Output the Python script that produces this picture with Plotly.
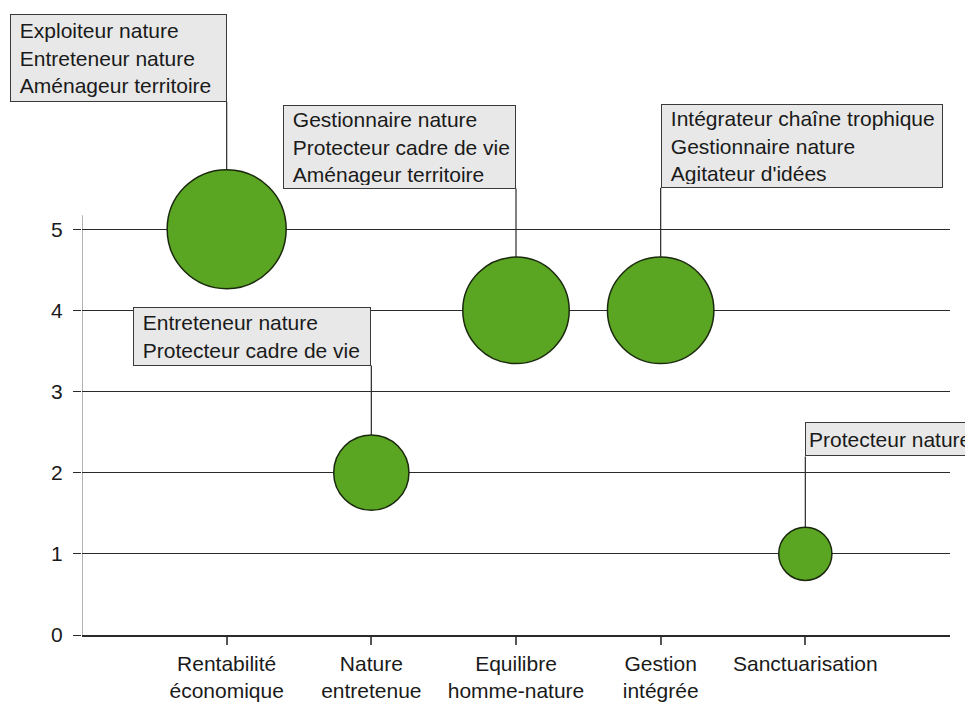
import plotly.graph_objects as go

# categories and values
categories = ["Rentabilité<br>économique", "Nature<br>entretenue", "Equilibre<br>homme-nature",
              "Gestion<br>intégrée", "Sanctuarisation"]
cat_pos = [1, 2, 3, 4, 5]
scores = [5, 4, 4, 2, 1]
score_pos = [1, 3, 4, 2, 5]

# role labels for each bubble
roles = [
    ["Exploiteur nature", "Entreteneur nature", "Aménageur territoire"],
    ["Gestionnaire nature", "Protecteur cadre de vie", "Aménageur territoire"],
    ["Intégrateur chaîne trophique", "Gestionnaire nature", "Agitateur d'idées"],
    ["Entreteneur nature", "Protecteur cadre de vie"],
    ["Protecteur nature"],
]
# where the label box sits (bottom edge, in y units) and which side of the stem
box_bottom = [6.57, 5.50, 5.51, 3.32, 2.20]
box_side = ["right", "right", "left", "right", "left"]
box_w = [217, 233, 282, 238, 170]
box_h = [88, 84, 84, 59, 34]
box_indent = ["&nbsp;", "&nbsp;", "&nbsp;", "&nbsp;", ""]

fig = go.Figure()

# stems from bubble to box
for x, y, yb in zip(score_pos, scores, box_bottom):
    fig.add_shape(type="line", x0=x, x1=x, y0=y, y1=yb, xref="x", yref="y",
                  line=dict(color="#2a2a2a", width=1.2), layer="below")

# y axis line (only up to a bit above 5)
fig.add_shape(type="line", x0=0, x1=0, y0=0, y1=5.17, xref="x", yref="y",
              line=dict(color="#9a9a9a", width=1.5), layer="below")

fig.add_trace(go.Scatter(
    x=score_pos, y=scores, mode="markers",
    marker=dict(size=scores, sizemode="area", sizeref=2 * 5 / 119 ** 2,
                color="#5aa521", line=dict(color="#1b2a0e", width=1.5), opacity=1),
    showlegend=False, hoverinfo="skip", cliponaxis=False,
))

for i in range(len(roles)):
    pad = 3
    fig.add_annotation(
        x=score_pos[i], y=box_bottom[i], xref="x", yref="y",
        text="<br>".join(box_indent[i] + r for r in roles[i]), showarrow=False,
        xanchor=box_side[i], yanchor="bottom", align="left", valign="middle",
        width=box_w[i] - 2 * pad - 2, height=box_h[i] - 2 * pad - 2,
        bgcolor="#e8e8e8", bordercolor="#3a3a3a", borderwidth=1, borderpad=pad,
        font=dict(family="Liberation Sans, Arial", size=21, color="#1a1a1a"),
    )

# page body has an 8px margin, so margins are shifted to compensate
fig.update_layout(
    width=973, height=713,
    margin=dict(l=74, r=31, t=2, b=86),
    paper_bgcolor="white", plot_bgcolor="white",
    font=dict(family="Liberation Sans, Arial", size=21, color="#1a1a1a"),
    xaxis=dict(range=[0, 6], tickvals=cat_pos, ticktext=categories, showgrid=False,
               zeroline=False, showline=True, linecolor="#2a2a2a", linewidth=1.5,
               ticks="outside", ticklen=8, tickcolor="#555", tickwidth=1.5,
               ticklabelstandoff=1, fixedrange=True),
    yaxis=dict(range=[0, 7.7], tickvals=[0, 1, 2, 3, 4, 5], showgrid=True,
               gridcolor="#2a2a2a", gridwidth=1.2, zeroline=False, showline=False,
               ticks="outside", ticklen=8, tickcolor="#2a2a2a", tickwidth=1.2,
               ticklabelstandoff=6, fixedrange=True),
)

fig.write_html("out.html")
